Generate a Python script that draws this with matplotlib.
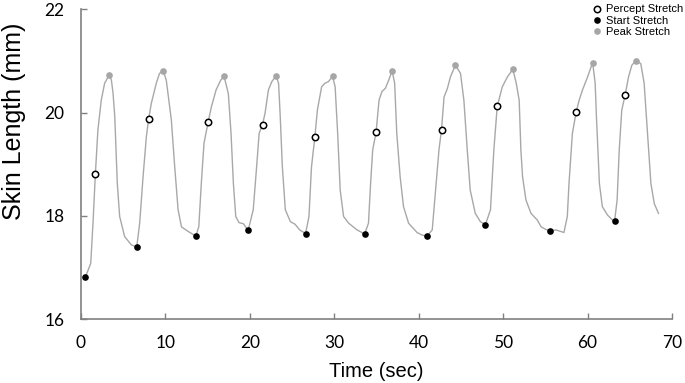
import matplotlib
matplotlib.use('Agg')
import matplotlib.pyplot as plt

# skin length trace (time in sec, length in mm)
trace_t = [0.5, 1.15, 1.42, 1.7, 2.0, 2.4, 2.8, 3.35, 3.6, 3.8, 4.0, 4.3, 4.58, 5.17, 5.97, 6.6,
           6.95, 7.35, 7.74, 8.0, 8.33, 8.92, 9.3, 9.75, 10.1, 10.7, 11.1, 11.5, 11.9, 12.7, 13.6,
           13.95, 14.25, 14.57, 15.05, 15.44, 16.0, 16.55, 16.95, 17.45, 17.77, 18.05, 18.33, 18.72, 19.23, 19.8,
           20.4, 20.8, 21.1, 21.5, 21.8, 22.2, 22.6, 23.1, 23.4, 23.6, 23.85, 24.2, 24.8, 25.35, 25.9, 26.6,
           27.0, 27.3, 27.7, 28.0, 28.5, 28.9, 29.3, 29.8, 30.1, 30.4, 30.7, 31.1, 31.7, 32.7, 33.25, 33.6,
           34.05, 34.3, 34.55, 34.95, 35.3, 35.65, 36.05, 36.45, 36.85, 37.15, 37.4, 37.8, 38.2, 38.8, 39.8, 40.4, 41.0,
           41.6, 42.0, 42.4, 42.7, 43.0, 43.4, 43.75, 44.35, 44.95, 45.35, 45.75, 46.1, 46.7, 47.3, 47.9,
           48.5, 48.9, 49.3, 49.9, 50.5, 51.15, 51.55, 51.9, 52.1, 52.3, 52.7, 53.3, 54.05, 54.5, 55.05, 55.6,
           56.25, 57.2, 57.6, 57.8, 58.2, 58.65, 59.0, 59.4, 60.0, 60.6,
           60.9, 61.05, 61.4, 61.75, 62.35, 62.95, 63.2, 63.5, 63.75, 64.05, 64.45, 64.85, 65.25, 65.7,
           66.3, 66.7, 67.1, 67.5, 67.9, 68.4]
trace_v = [16.81, 17.08, 17.86, 18.81, 19.66, 20.24, 20.57, 20.73, 20.63, 20.37, 19.92, 18.63, 17.99, 17.6, 17.44, 17.40,
           17.86, 18.76, 19.53, 19.87, 20.18, 20.57, 20.76, 20.81, 20.63, 19.86, 18.95, 18.12, 17.79, 17.70, 17.61,
           17.79, 18.63, 19.41, 19.81, 20.11, 20.44, 20.63, 20.70, 20.37, 19.6, 18.63, 17.99, 17.87, 17.85, 17.72,
           18.12, 18.95, 19.6, 19.77, 19.99, 20.44, 20.6, 20.71, 20.57, 19.92, 18.95, 18.12, 17.89, 17.84, 17.73, 17.66,
           17.99, 18.95, 19.53, 20.05, 20.5, 20.57, 20.6, 20.70, 20.5, 19.6, 18.5, 17.99, 17.86, 17.73, 17.68, 17.65,
           17.86, 18.63, 19.28, 19.62, 20.24, 20.41, 20.47, 20.63, 20.81, 20.57, 19.6, 18.76, 18.18, 17.86, 17.68, 17.63, 17.61,
           17.73, 18.5, 19.28, 19.67, 20.3, 20.47, 20.69, 20.92, 20.76, 20.24, 19.28, 18.5, 18.05, 17.89, 17.83,
           18.12, 19.28, 20.12, 20.5, 20.69, 20.84, 20.57, 20.24, 19.28, 18.76, 18.31, 18.05, 17.92, 17.79, 17.74, 17.71,
           17.73, 17.68, 17.99, 18.63, 19.6, 20.01, 20.24, 20.44, 20.69, 20.97,
           20.57, 19.92, 18.63, 18.18, 18.02, 17.92, 17.90, 18.31, 19.28, 20.05, 20.34, 20.69, 20.92, 21.0,
           20.95, 20.57, 19.6, 18.63, 18.24, 18.05]

percept_t = [1.7, 8.0, 15.05, 21.5, 27.7, 34.95, 42.7, 49.3, 58.65, 64.45]
percept_v = [18.81, 19.87, 19.81, 19.77, 19.53, 19.62, 19.67, 20.12, 20.01, 20.34]
start_t = [0.5, 6.6, 13.6, 19.8, 26.6, 33.6, 41.0, 47.9, 55.6, 63.2]
start_v = [16.81, 17.40, 17.61, 17.72, 17.66, 17.65, 17.61, 17.83, 17.71, 17.90]
peak_t = [3.35, 9.75, 16.95, 23.1, 29.8, 36.85, 44.35, 51.15, 60.6, 65.7]
peak_v = [20.73, 20.81, 20.70, 20.71, 20.70, 20.81, 20.92, 20.84, 20.97, 21.0]

xticks = [0, 10, 20, 30, 40, 50, 60, 70]
yticks = [16, 18, 20, 22]

fig = plt.figure(figsize=(6.85, 3.83), dpi=100)
ax = fig.add_axes([81 / 685, 1 - 319.3 / 383, 591 / 685, 310 / 383])

ax.plot(trace_t, trace_v, color='#a8a8a8', lw=1.0, zorder=1)
ax.plot(peak_t, peak_v, 'o', color='#a6a6a6', ms=4.8, mec='none', zorder=2, label='Peak Stretch')
ax.plot(start_t, start_v, 'o', color='black', ms=4.8, mec='none', zorder=3, label='Start Stretch')
ax.plot(percept_t, percept_v, 'o', mfc='white', mec='black', ms=4.6, mew=1.1, zorder=4,
        label='Percept Stretch')

ax.set_xlim(0, 70)
ax.set_ylim(16, 22)
ax.set_xticks(xticks)
ax.set_yticks(yticks)
for s in ['top', 'right']:
    ax.spines[s].set_visible(False)
for s in ['left', 'bottom']:
    ax.spines[s].set_color('#808080')
    ax.spines[s].set_linewidth(1.2)
ax.tick_params(direction='in', length=4, width=1, color='#808080', labelsize=12.5)
ax.tick_params(axis='x', pad=11.5)
ax.tick_params(axis='y', pad=12)
for lab in ax.get_xticklabels() + ax.get_yticklabels():
    lab.set_family('Lato')

fig.text(376.5 / 685, 1 - 376.7 / 383, 'Time (sec)', ha='center', va='baseline',
         family='Liberation Sans', fontsize=14.5)
fig.text(14.5 / 685, 1 - 121.5 / 383, 'Skin Length (mm)', ha='center', va='center',
         rotation=90, family='Liberation Sans', fontsize=18)

h, l = ax.get_legend_handles_labels()
fig.legend(h[::-1], l[::-1], loc='upper left', bbox_to_anchor=(593 / 685, 1 - 4.5 / 383),
           frameon=False, borderpad=0, borderaxespad=0, handlelength=0.8, handletextpad=0.35,
           labelspacing=0.12, markerscale=1.0, prop={'family': 'Liberation Sans', 'size': 8})

fig.savefig('out.png', dpi=100)
